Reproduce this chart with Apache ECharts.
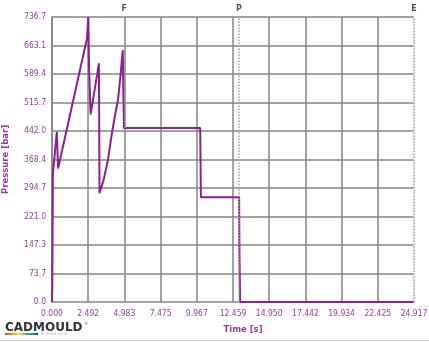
<!DOCTYPE html>
<html><head><meta charset="utf-8">
<script src="https://cdn.jsdelivr.net/npm/echarts@6/dist/echarts.min.js"></script>
<style>html,body{margin:0;padding:0;background:#fff}#c{width:429px;height:343px}</style>
</head><body><div id="c"></div>
<script>
// Pressure curve [time s, pressure bar]
const timeValues = [0, 0.02, 0.06, 0.33, 0.42, 2.41, 2.5, 2.55, 2.66, 3.23, 3.27, 3.55, 3.85, 4.1, 4.38, 4.54, 4.72, 4.87, 4.95, 10.2, 10.25, 12.88, 12.9, 12.95, 24.917];
const pressureValues = [0, 40, 330, 440, 345, 682, 736.7, 605, 485, 617, 281, 315, 367, 431, 491, 522, 587, 651, 450, 450, 271, 271, 134, 0, 0];
const xTickLabels = ['0.000','2.492','4.983','7.475','9.967','12.459','14.950','17.442','19.934','22.425','24.917'];
const yTickLabels = ['0.0','73.7','147.3','221.0','294.7','368.4','442.0','515.7','589.4','663.1','736.7'];
const markerNames = ['F','P','E'];
const markerTimes = [4.983, 12.87, 24.905];

const xMax = 24.917, yMax = 736.7;
const xInt = xMax / 10, yInt = yMax / 10;
const purple = '#8e1f8e';
const labelPurple = '#9a3aa0';

const markData = [{name: '', xAxis: markerTimes[2], lineStyle: {color: '#ffffff', type: 'solid', width: 2.5}, label: {show: false}}]
  .concat(markerNames.map((n, i) => ({name: n, xAxis: markerTimes[i]})));

const chart = echarts.init(document.getElementById('c'));
chart.setOption({
  animation: false,
  backgroundColor: '#fff',
  grid: {left: 52, right: 15, top: 17, bottom: 41, containLabel: false, outerBoundsMode: 'none'},
  xAxis: {
    type: 'value', min: 0, max: xMax, interval: xInt,
    name: 'Time [s]', nameLocation: 'middle', nameGap: 23,
    nameTextStyle: {color: labelPurple, fontSize: 8.5, fontWeight: 'bold', fontFamily: 'DejaVu Sans', padding: [0,0,0,20]},
    axisLine: {show: false}, axisTick: {show: false},
    axisLabel: {color: labelPurple, fontSize: 8.5, fontFamily: 'DejaVu Sans Condensed, DejaVu Sans', margin: 7,
      formatter: v => xTickLabels[Math.round(v / xInt)] || ''},
    splitLine: {show: true, lineStyle: {color: '#858585', width: 1.5}}
  },
  yAxis: {
    type: 'value', min: 0, max: yMax, interval: yInt,
    name: 'Pressure [bar]', nameLocation: 'middle', nameGap: 42, nameRotate: 90,
    nameTextStyle: {color: labelPurple, fontSize: 8.5, fontWeight: 'bold', fontFamily: 'DejaVu Sans'},
    axisLine: {show: true, lineStyle: {color: '#858585', width: 1.5}}, axisTick: {show: false},
    axisLabel: {color: labelPurple, fontSize: 8.5, fontFamily: 'DejaVu Sans Condensed, DejaVu Sans', margin: 6,
      formatter: v => yTickLabels[Math.round(v / yInt)] || ''},
    splitLine: {show: true, lineStyle: {color: '#858585', width: 1.5}}
  },
  series: [{
    type: 'line',
    data: timeValues.map((t, i) => [t, pressureValues[i]]),
    showSymbol: false,
    clip: false,
    lineStyle: {color: purple, width: 2},
    z: 3,
    markLine: {
      symbol: 'none', silent: true, z: 4,
      lineStyle: {color: '#a0a0a0', type: [1.5, 1.5], width: 1.5},
      label: {show: true, position: 'end', distance: 4, color: '#555', fontSize: 8, fontWeight: 'bold', fontFamily: 'DejaVu Sans',
        formatter: p => p.name},
      data: markData
    }
  }],
  graphic: [
    {type: 'text', left: 5, top: 322, style: {text: 'CADMOULD', font: 'bold 12px "DejaVu Sans"', fill: '#333'}},
    {type: 'text', left: 84, top: 322, style: {text: '®', font: '4px "DejaVu Sans"', fill: '#555'}},
    {type: 'rect', shape: {x: 5, y: 333, width: 33, height: 2},
      style: {fill: new echarts.graphic.LinearGradient(0,0,1,0,[
        {offset:0,color:'#e8322a'},{offset:0.25,color:'#f5a623'},{offset:0.45,color:'#f2e33a'},
        {offset:0.65,color:'#3cb44b'},{offset:0.85,color:'#2a7fd4'},{offset:1,color:'#1a3c9a'}])}},
    {type: 'text', left: 40, top: 332, style: {text: '3D SIMULATION', font: '3.5px "DejaVu Sans"', fill: '#aaa'}},
    {type: 'rect', shape: {x: 0, y: 340, width: 429, height: 1}, style: {fill: '#d0d0d0'}}
  ]
});
</script></body></html>
